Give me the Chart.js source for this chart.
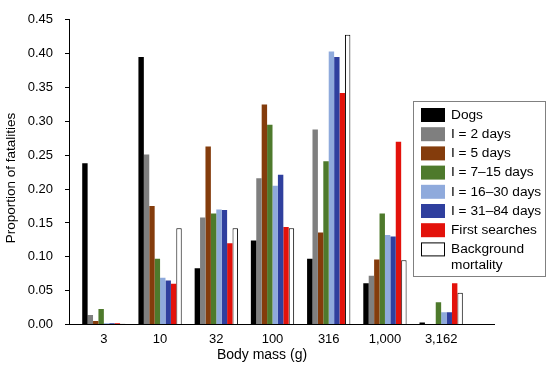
<!DOCTYPE html>
<html>
<head>
<meta charset="utf-8">
<script src="https://cdn.jsdelivr.net/npm/chart.js@4/dist/chart.umd.min.js"></script>
<style>
  body { margin: 0; background: #fff; }
  #wrap { width: 550px; height: 367px; }
</style>
</head>
<body>
<div id="wrap"><canvas id="chart" width="550" height="367"></canvas></div>
<script>
// Data
const categories = ['3', '10', '32', '100', '316', '1,000', '3,162'];
const dogs       = [0.238, 0.395, 0.083, 0.124, 0.097, 0.061, 0.003];
const int2       = [0.014, 0.251, 0.158, 0.216, 0.288, 0.072, 0];
const int5       = [0.005, 0.175, 0.263, 0.325, 0.136, 0.096, 0];
const int7to15   = [0.023, 0.097, 0.164, 0.295, 0.241, 0.164, 0.033];
const int16to30  = [0.002, 0.069, 0.170, 0.205, 0.403, 0.132, 0.018];
const int31to84  = [0.002, 0.065, 0.169, 0.221, 0.395, 0.130, 0.018];
const firstSearch = [0.002, 0.060, 0.120, 0.144, 0.342, 0.270, 0.061];
const background = [0.001, 0.142, 0.142, 0.142, 0.428, 0.095, 0.047];
const yTicks = [0, 0.05, 0.10, 0.15, 0.20, 0.25, 0.30, 0.35, 0.40, 0.45];

const FONT = "'Liberation Sans', Arial, sans-serif";

// category index -> {x, y} so bars sit on a linear axis
function pts(arr) {
    return arr.map((v, i) => ({ x: i, y: v }));
}

function ds(label, arr, color, border) {
    return {
        label,
        data: pts(arr),
        backgroundColor: color,
        borderColor: border || color,
        borderWidth: border ? 1 : 0,
        categoryPercentage: 0.77,
        barPercentage: 1.0
    };
}

// Legend box + axis titles drawn on the canvas
const overlay = {
    id: 'overlay',
    afterDraw(chart) {
        const ctx = chart.ctx;
        ctx.save();

        // axis titles
        ctx.fillStyle = '#000';
        ctx.font = '14px ' + FONT;
        ctx.textAlign = 'center';
        ctx.textBaseline = 'middle';
        ctx.fillText('Body mass (g)', 262, 355);
        ctx.translate(11, 178);
        ctx.rotate(-Math.PI / 2);
        ctx.font = '13.5px ' + FONT;
        ctx.fillText('Proportion of fatalities', 0, 0);
        ctx.setTransform(1, 0, 0, 1, 0, 0);

        // legend
        ctx.fillStyle = '#fff';
        ctx.fillRect(413, 101.5, 132, 175);
        ctx.strokeStyle = '#808080';
        ctx.lineWidth = 1;
        ctx.strokeRect(413.5, 101.5, 132, 175);

        ctx.font = '13.7px ' + FONT;
        ctx.textAlign = 'left';
        chart.data.datasets.forEach((d, i) => {
            const cy = 115 + i * 19.2;
            ctx.fillStyle = d.backgroundColor;
            ctx.fillRect(421, cy - 7, 24, 14);
            if (d.borderWidth) {
                ctx.strokeStyle = d.borderColor;
                ctx.strokeRect(421.5, cy - 6.5, 23, 13);
            }
            ctx.fillStyle = '#000';
            const lines = i === 7 ? ['Background', 'mortality'] : [d.label];
            lines.forEach((t, j) => ctx.fillText(t, 451, cy + j * 16));
        });
        ctx.restore();
    }
};

new Chart(document.getElementById('chart'), {
    type: 'bar',
    data: {
        datasets: [
            ds('Dogs', dogs, '#000000'),
            ds('I = 2 days', int2, '#7f7f7f'),
            ds('I = 5 days', int5, '#843c0c'),
            ds('I = 7–15 days', int7to15, '#4e7a2c'),
            ds('I = 16–30 days', int16to30, '#8faadc'),
            ds('I = 31–84 days', int31to84, '#2f3f9e'),
            ds('First searches', firstSearch, '#e3120b'),
            ds('Background mortality', background, '#ffffff', '#000000')
        ]
    },
    options: {
        responsive: false,
        animation: false,
        layout: { padding: { top: 12, right: 56, left: 0, bottom: 0 } },
        plugins: {
            legend: { display: false },
            tooltip: { enabled: false }
        },
        scales: {
            x: {
                type: 'linear',
                min: -0.62,
                max: 6.94,
                offset: false,
                grid: { display: false, drawTicks: false, tickLength: 0, offset: false },
                border: { color: '#000', width: 1 },
                afterBuildTicks: s => { s.ticks = categories.map((c, i) => ({ value: i })); },
                afterFit: s => { s.height = 42.5; },
                ticks: {
                    autoSkip: false,
                    maxRotation: 0,
                    padding: 7,
                    color: '#000',
                    font: { family: FONT, size: 13 },
                    callback: v => categories[v]
                }
            },
            y: {
                min: 0,
                max: 0.45,
                grid: { drawOnChartArea: false, drawTicks: true, tickLength: 4, color: '#000' },
                border: { color: '#000', width: 1 },
                afterBuildTicks: s => { s.ticks = yTicks.map(v => ({ value: v })); },
                afterFit: s => { s.width = 69; },
                ticks: {
                    padding: 12,
                    color: '#000',
                    font: { family: FONT, size: 13 },
                    callback: v => v.toFixed(2)
                }
            }
        }
    },
    plugins: [overlay]
});
</script>
</body>
</html>
